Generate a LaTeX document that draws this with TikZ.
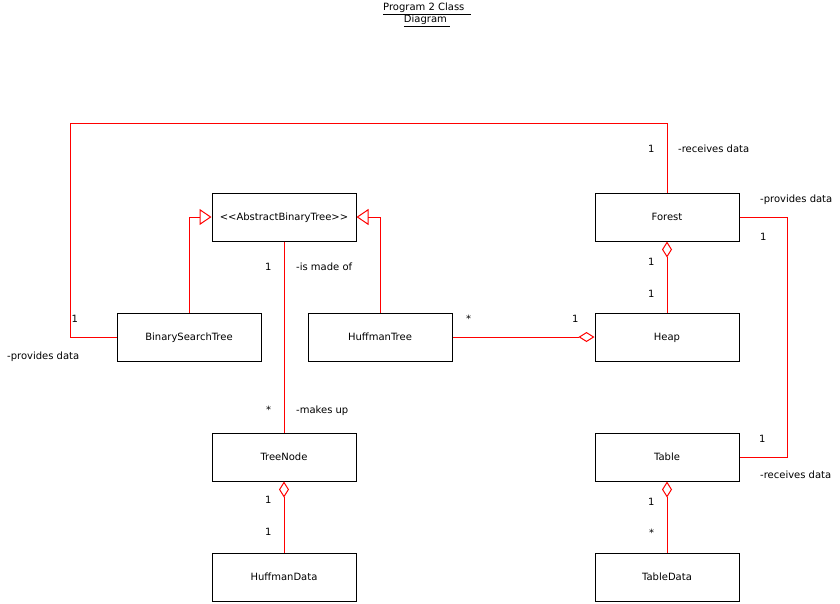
\documentclass[tikz,border=0pt]{standalone}
\usepackage{fontspec}
\setmainfont{DejaVu Sans}
\usetikzlibrary{arrows.meta}
\begin{document}
\begin{tikzpicture}[x=1pt,y=-1pt,font=\fontsize{10}{12}\selectfont,
  cls/.style={draw=black,line width=1pt,minimum width=144pt,minimum height=48pt,inner sep=0pt,fill=white,text height=7.3pt,text depth=0pt},
  conn/.style={draw=red,line width=1pt},
  lbl/.style={anchor=base west,inner sep=0pt},
  gen/.style={conn,-{Triangle[open,length=12pt,width=16pt]}},
  agg/.style={conn,{Diamond[open,length=16pt,width=10pt]}-}]
\useasboundingbox (0,0) rectangle (840,603);
\fill[white] (0,0) rectangle (840,603);
% title
\node[inner sep=0pt] (t1) at (427,9) {\underline{Program 2 Class\ \ }};
\node[inner sep=0pt] (t2) at (427,21) {\underline{Diagram\ }};
% classes
\node[cls] (abt) at (284,217) {<\kern0pt<AbstractBinaryTree>\kern0pt>};
\node[cls] (forest) at (667,217) {Forest};
\node[cls] (bst) at (189,337) {BinarySearchTree};
\node[cls] (ht) at (380,337) {HuffmanTree};
\node[cls] (heap) at (667,337) {Heap};
\node[cls] (tn) at (284,457) {TreeNode};
\node[cls] (table) at (667,457) {Table};
\node[cls] (hd) at (284,577) {HuffmanData};
\node[cls] (td) at (667,577) {TableData};
% connectors
\coordinate (tl) at (70,123);
\coordinate (rr) at (787,300);
\draw[gen] (bst.north) |- (abt.west);
\draw[gen] (ht.north) |- (abt.east);
\draw[conn] (abt.south) -- (tn.north);
\draw[agg] (forest.south) -- (heap.north);
\draw[agg] (heap.west) -- (ht.east);
\draw[agg] (tn.south) -- (hd.north);
\draw[agg] (table.south) -- (td.north);
\draw[conn] (forest.north) |- (tl) |- (bst.west);
\draw[conn] (forest.east) -| (rr) |- (table.east);
% labels
\node[lbl] (l1) at (648,152) {1};
\node[lbl] (l2) at (678,152) {-receives data};
\node[lbl] (l3) at (760,202) {-provides data};
\node[lbl] (l4) at (760,240) {1};
\node[lbl] (l5) at (265,270) {1};
\node[lbl] (l6) at (296,270) {-is made of};
\node[lbl] (l7) at (71.5,322) {1};
\node[lbl] (l8) at (7,359) {-provides data};
\node[lbl] (l9) at (466,322) {*};
\node[lbl] (l10) at (572,322) {1};
\node[lbl] (l11) at (648,265) {1};
\node[lbl] (l12) at (648,297) {1};
\node[lbl] (l13) at (266,413) {*};
\node[lbl] (l14) at (296,413) {-makes up};
\node[lbl] (l15) at (265,503) {1};
\node[lbl] (l16) at (265,535) {1};
\node[lbl] (l17) at (759,442) {1};
\node[lbl] (l18) at (760,478) {-receives data};
\node[lbl] (l19) at (648,505) {1};
\node[lbl] (l20) at (649,536) {*};
\end{tikzpicture}
\end{document}
